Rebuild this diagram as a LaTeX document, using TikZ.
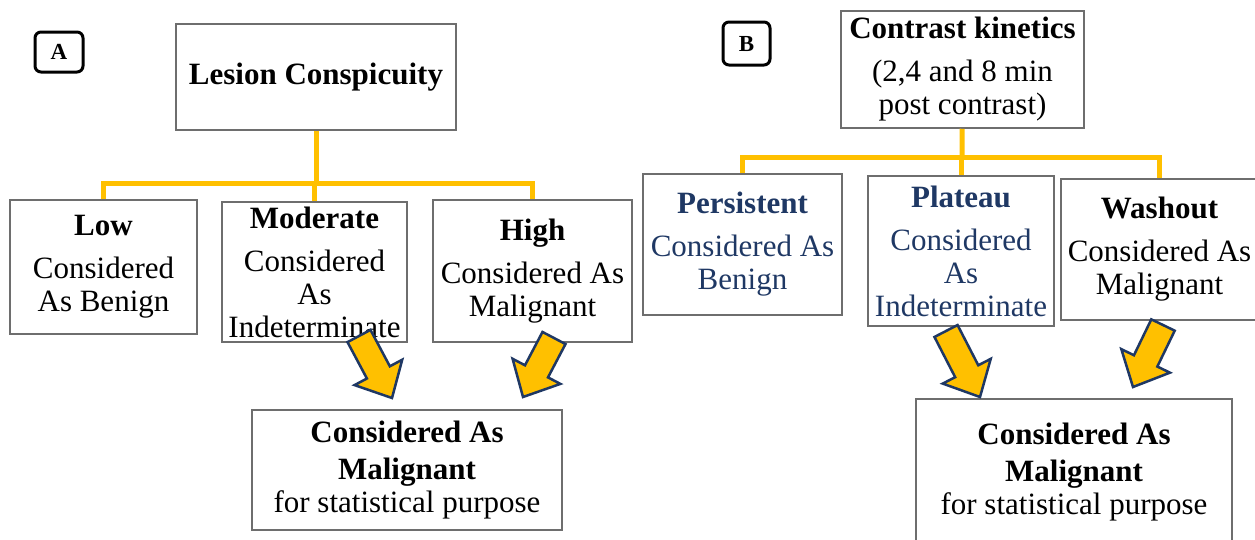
\documentclass[tikz,border=0pt]{standalone}
\usepackage{fontspec}
\setmainfont{Liberation Serif}
\usetikzlibrary{calc}
\definecolor{lineyellow}{HTML}{FFC000}
\definecolor{navy}{HTML}{1F3864}
\definecolor{boxgray}{HTML}{6E6E6E}

\begin{document}
\begin{tikzpicture}[x=1pt,y=-1pt,
  box/.style={draw=boxgray,line width=1.5pt,align=center,inner sep=0pt,font=\fontsize{31}{33}\selectfont},
  panellabel/.style={draw=black,line width=3pt,rounded corners=6pt,inner sep=0pt,font=\fontsize{23}{23}\selectfont\bfseries},
  yline/.style={draw=lineyellow,line width=5pt},
  blockarrow/.style={fill=lineyellow,draw=navy,line width=2.5pt,line join=miter}]
\useasboundingbox (0,0) rectangle (1255,539);

% panel A
\node[panellabel,minimum width=48pt,minimum height=40pt] (labA) at (59,52) {A};
\node[box,minimum width=280pt,minimum height=106pt] (lesion) at (316,77) {\textbf{Lesion Conspicuity}};
\node[box,minimum width=187pt,minimum height=134pt] (low) at (103.5,267) {\textbf{Low}\\[10pt]Considered\\As Benign};
\node[box,minimum width=185pt,minimum height=140pt] (moderate) at (314.5,272) {\textbf{Moderate}\\[10pt]Considered\\As\\Indeterminate};
\node[box,minimum width=199pt,minimum height=142pt] (high) at (532.5,271) {\textbf{High}\\[10pt]Considered As\\Malignant};
\node[box,minimum width=310pt,minimum height=120pt] (malA) at (407,470) {\textbf{Considered As}\\[4pt]\textbf{Malignant}\\for statistical purpose};

\coordinate (busA) at (316,183);
\draw[yline] (lesion) -- (busA);
\draw[yline] (low) |- (busA) -| (high);
\draw[yline] (moderate) -- (moderate |- busA);

% panel B
\node[panellabel,minimum width=47pt,minimum height=43pt] (labB) at (746.5,43.5) {B};
\node[box,minimum width=243pt,minimum height=117pt] (kinetics) at (962.5,69.5) {\textbf{Contrast kinetics}\\[10pt](2,4 and 8 min\\post contrast)};
\node[box,text=navy,minimum width=199pt,minimum height=141pt] (persistent) at (742.5,244.5) {\textbf{Persistent}\\[10pt]Considered As\\Benign};
\node[box,text=navy,minimum width=186pt,minimum height=150pt] (plateau) at (961,251) {\textbf{Plateau}\\[10pt]Considered\\As\\Indeterminate};
\node[box,minimum width=197pt,minimum height=141pt] (washout) at (1159.5,249.5) {\textbf{Washout}\\[10pt]Considered As\\Malignant};
\node[box,minimum width=316pt,minimum height=146pt] (malB) at (1074,472) {\textbf{Considered As}\\[4pt]\textbf{Malignant}\\for statistical purpose};

\coordinate (busB) at (962,157);
\draw[yline] (kinetics) -- (busB);
\draw[yline] (persistent) |- (busB) -| (washout);
\draw[yline] (plateau) -- (plateau |- busB);

% block arrows
\coordinate (tA1) at (359,336); \coordinate (pA1) at (392,398);
\coordinate (tA2) at (554,338); \coordinate (pA2) at (523,397);
\coordinate (tB1) at (946,331); \coordinate (pB1) at (980,397);
\coordinate (tB2) at (1163,325); \coordinate (pB2) at (1133,387);
\foreach \t/\p in {tA1/pA1,tA2/pA2,tB1/pB1,tB2/pB2}{
  \coordinate (n) at ($(\p)!29pt!(\t)$);
  \draw[blockarrow] ($(\t)!13pt!90:(\p)$) -- ($(n)!13pt!90:(\p)$) -- ($(n)!27pt!90:(\p)$) -- (\p)
    -- ($(n)!27pt!-90:(\p)$) -- ($(n)!13pt!-90:(\p)$) -- ($(\t)!13pt!-90:(\p)$) -- cycle;
}
\end{tikzpicture}
\end{document}
